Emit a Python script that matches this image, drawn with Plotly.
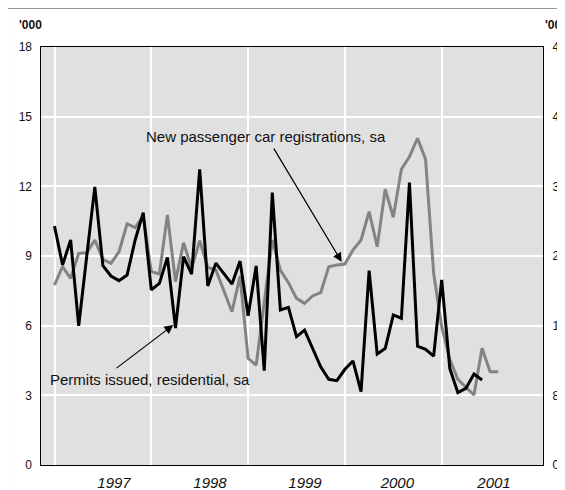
import plotly.graph_objects as go

# month index 0 = first observation; year gridlines every 12 months
permits = [10.29, 8.61, 9.69, 5.99, 9.0, 11.98, 8.58, 8.14, 7.94, 8.18,
           9.69, 10.87, 7.54, 7.82, 8.94, 5.9, 8.97, 8.22, 12.73, 7.71,
           8.69, 8.22, 7.79, 8.78, 6.43, 8.57, 4.06, 11.73, 6.68, 6.79,
           5.53, 5.81, 4.98, 4.23, 3.69, 3.63, 4.12, 4.48, 3.16, 8.37,
           4.78, 5.02, 6.46, 6.32, 12.16, 5.12, 4.98, 4.69, 7.97, 4.16,
           3.12, 3.30, 3.92, 3.66]
cars = [20.67, 22.77, 21.44, 24.31, 24.38, 25.84, 23.62, 23.16, 24.49, 27.68,
        27.25, 28.6, 22.2, 21.93, 28.71, 21.05, 25.53, 22.59, 25.76, 22.7,
        22.39, 20.1, 17.6, 21.7, 12.25, 11.48, 18.7, 25.84, 22.39, 20.94,
        19.14, 18.57, 19.41, 19.79, 22.77, 22.97, 23.08, 24.69, 25.84, 29.09,
        25.07, 31.66, 28.45, 33.96, 35.4, 37.52, 35.1, 22.01, 15.88, 12.14,
        9.84, 8.92, 8.04, 13.4, 10.72, 10.72]

year_grid = [0, 12, 24, 36, 48]
year_label_pos = [7.38, 19.28, 31.05, 42.5, 54.48]
year_labels = ["1997", "1998", "1999", "2000", "2001"]

FONT = "Liberation Sans, Arial, sans-serif"

fig = go.Figure()
fig.add_trace(go.Scatter(
    x=list(range(len(cars))), y=cars, yaxis="y", mode="lines",
    line=dict(color="#838383", width=3), showlegend=False,
))
fig.add_trace(go.Scatter(
    x=list(range(len(permits))), y=permits, yaxis="y2", mode="lines",
    line=dict(color="#000000", width=3), showlegend=False,
))

annotations = [
    dict(text="New passenger car registrations, sa", x=26.16, y=14.14,
         xref="x", yref="y2", showarrow=False, font=dict(size=15, color="#111")),
    dict(text="Permits issued, residential, sa", x=11.8, y=3.70,
         xref="x", yref="y2", showarrow=False, font=dict(size=15, color="#111")),
    dict(text="", x=35.6, y=8.75, xref="x", yref="y2", ax=-68.7, ay=-114.7,
         showarrow=True, arrowhead=2, arrowsize=1.5, arrowwidth=1.2, arrowcolor="#000"),
    dict(text="", x=14.73, y=6.03, xref="x", yref="y2", ax=-58.3, ay=44.3,
         showarrow=True, arrowhead=2, arrowsize=1.5, arrowwidth=1.2, arrowcolor="#000"),
    dict(text="<b>'000</b>", x=-0.047, y=1.0526, xref="paper", yref="paper",
         xanchor="left", yanchor="middle", showarrow=False, font=dict(size=12)),
    dict(text="<b>'000</b>", x=1.0, y=1.0526, xref="paper", yref="paper",
         xanchor="left", yanchor="middle", showarrow=False, font=dict(size=12)),
]

fig.update_layout(
    width=557, height=482,
    margin=dict(l=33, r=22, t=39, b=25),
    paper_bgcolor="white", plot_bgcolor="#e0e0e0",
    font=dict(family=FONT, size=12, color="#111"),
    xaxis=dict(
        range=[-1.673, 60.556], showgrid=False, zeroline=False, automargin=False,
        tickvals=year_label_pos, ticktext=year_labels, ticks="",
        tickfont=dict(size=15, style="italic"), ticklabelstandoff=4,
        minor=dict(tickvals=year_grid, showgrid=True, gridcolor="white", gridwidth=2, ticks=""),
        showline=True, linecolor="#000", linewidth=1, mirror=True,
    ),
    yaxis=dict(
        range=[0, 48], tickvals=[0, 8, 16, 24, 32, 40, 48], side="right",
        showgrid=True, gridcolor="white", gridwidth=2, zeroline=False, ticks="",
        showline=True, linecolor="#000", linewidth=1, mirror=True, automargin=False,
        tickfont=dict(size=12), ticklabelstandoff=6,
    ),
    yaxis2=dict(
        range=[0, 18], tickvals=[0, 3, 6, 9, 12, 15, 18], side="left",
        overlaying="y", showgrid=False, zeroline=False, ticks="", automargin=False,
        tickfont=dict(size=12), ticklabelstandoff=8,
    ),
    annotations=annotations,
    shapes=[dict(type="rect", xref="paper", yref="paper",
                 x0=-0.0667, x1=1.08, y0=-0.1, y1=1.0933,
                 line=dict(color="#333", width=1), fillcolor="rgba(0,0,0,0)")],
)

fig.write_html("out.html")
